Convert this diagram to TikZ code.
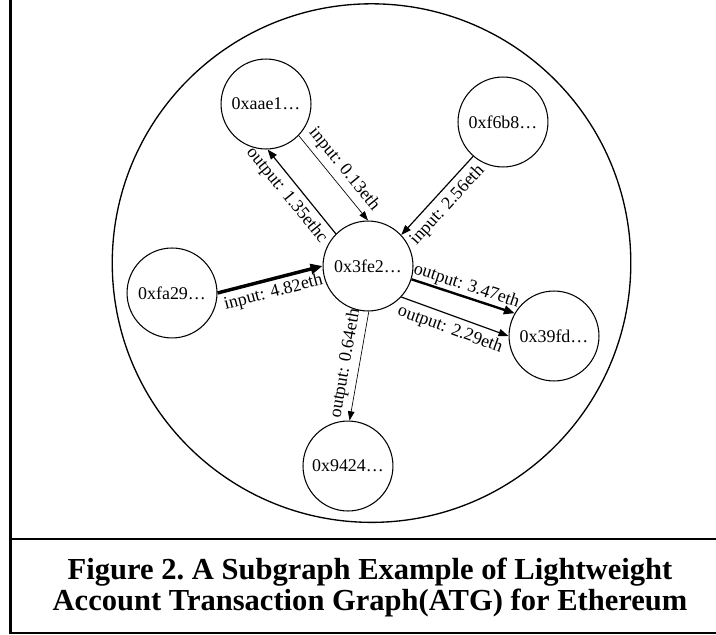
\documentclass[tikz,border=0pt]{standalone}
\usepackage{fontspec}
\setmainfont{Liberation Serif}
\usetikzlibrary{arrows.meta}

\begin{document}
\begin{tikzpicture}[
  acct/.style={draw, circle, line width=0.8pt, minimum size=2.38cm, inner sep=1pt, font=\fontsize{13.5}{16}\selectfont},
  txlbl/.style={sloped, inner sep=1pt, font=\fontsize{13.5}{16}\selectfont},
  txthin/.style={line width=0.5pt, -{Triangle[length=7pt,width=5pt]}},
  txmid/.style={line width=0.9pt, -{Triangle[length=7.5pt,width=5.5pt]}},
  txbold/.style={line width=1.8pt, -{Triangle[length=8pt,width=6.5pt]}},
  txheavy/.style={line width=2.6pt, -{Triangle[length=9pt,width=7.5pt]}}
]
  \useasboundingbox (0,0) rectangle (18.944,16.801);
  % frame and caption rule
  \draw[line width=2.2pt] (0.29,17.5) -- (0.29,0.053) -- (19.5,0.053);
  \draw[line width=2.2pt] (0.29,2.54) -- (19.5,2.54);
  % the subgraph
  \draw[line width=1pt] (9.83,9.84) circle (6.86);

  \node[acct] (n3fe) at (9.737,9.763) {0x3fe2…};
  \node[acct] (naae) at (7.038,14.049) {0xaae1…};
  \node[acct] (nf6b) at (13.308,13.573) {0xf6b8…};
  \node[acct] (nfa2) at (4.551,9.049) {0xfa29…};
  \node[acct] (n39f) at (14.658,7.911) {0x39fd…};
  \node[acct] (n942) at (9.207,4.471) {0x9424…};

  \draw[txmid] (n3fe.135) -- node[txlbl, below=3pt, pos=0.56] {output: 1.35ethc} (naae.-88);
  \draw[txthin] (naae.-44) -- node[txlbl, above=3pt] {input: 0.13eth} (n3fe.90);
  \draw[txmid] (nf6b.229) -- node[txlbl, below=3pt] {input: 2.56eth} (n3fe.43);
  \draw[txheavy] (nfa2.0) -- node[txlbl, below=2pt] {input: 4.82eth} (n3fe.180);
  \draw[txbold] (n3fe.-17) -- node[txlbl, above=0pt] {output: 3.47eth} (n39f.150);
  \draw[txmid] (n3fe.-43) -- node[txlbl, below=3pt] {output: 2.29eth} (n39f.180);
  \draw[txthin] (n3fe.-89) -- node[txlbl, above=3pt] {output: 0.64eth} (n942.88);

  \node[font=\fontsize{23}{23.5}\selectfont\bfseries\frenchspacing, align=center] (caption) at (9.79,1.25)
    {Figure 2. A Subgraph Example of Lightweight\\Account Transaction Graph(ATG) for Ethereum};
\end{tikzpicture}
\end{document}
